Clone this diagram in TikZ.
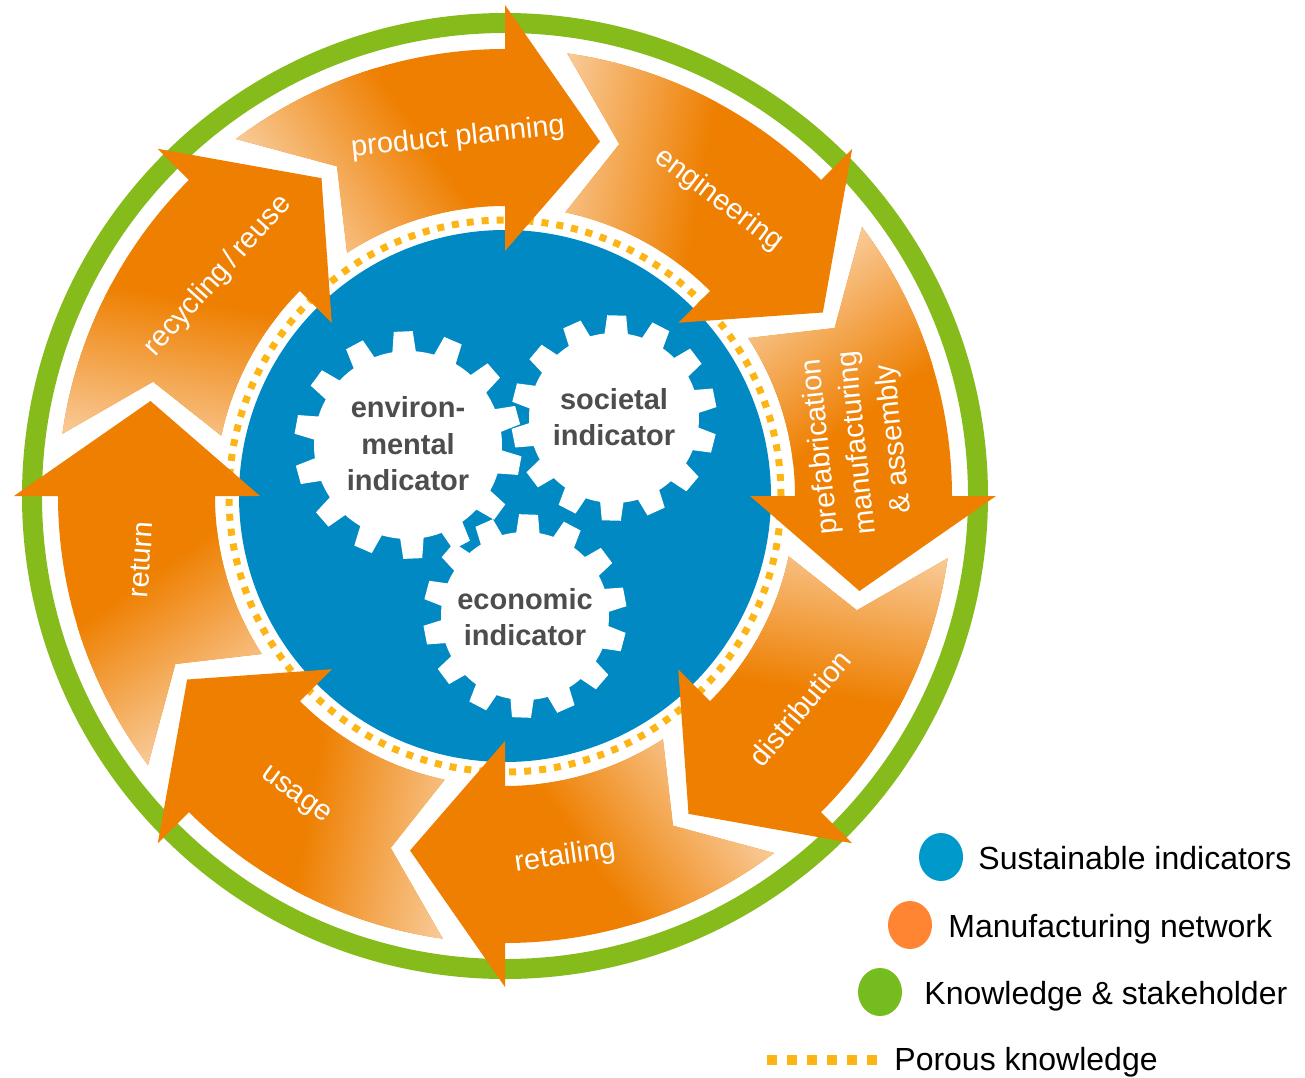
\documentclass[tikz,border=0pt]{standalone}
\usepackage{fontspec}
\setmainfont{Liberation Sans}
\definecolor{ringgreen}{HTML}{85BB1B}
\definecolor{discblue}{HTML}{0089C2}
\definecolor{armain}{HTML}{EE7F00}
\definecolor{arlight}{HTML}{FAD4AC}
\definecolor{dotyellow}{HTML}{FDB515}
\definecolor{gtext}{HTML}{4D4D4D}
\definecolor{legblue}{HTML}{0099CC}
\definecolor{legorange}{HTML}{FF8533}
\definecolor{leggreen}{HTML}{75BC20}
\tikzset{
  arrowlabel/.style={text=white, font=\fontsize{14.5}{18.5}\selectfont, inner sep=0pt, align=center},
  gearlabel/.style={text=gtext, font=\bfseries\fontsize{14.5}{18.2}\selectfont, align=center, inner sep=0pt},
  legendtext/.style={text=black, font=\fontsize{16}{19}\selectfont, anchor=base west, inner sep=0pt},
  porousring/.style={dotyellow, line width=3.5pt, dash pattern=on 3.5pt off 4pt},
}
\newcommand\arrowshape[1]{(#1:491) -- (#1-15:367) -- (#1:245) -- (#1:290) arc[start angle=#1, end angle=#1+33, radius=290] -- (#1+27:370) -- (#1+37:447) arc[start angle=#1+37, end angle=#1, radius=447] -- cycle}
\newcommand\gearshape[6]{%
  \begin{scope}[shift={(#1,#2)}]
    \fill[white] (0,0) circle[radius=#4];
    \pgfmathsetmacro\rb{#4-3}
    \pgfmathsetmacro\hb{deg(12.5/#4)}
    \pgfmathsetmacro\ht{deg(9.5/#5)}
    \foreach \t in {1,...,#3}{
      \pgfmathsetmacro\ga{#6+360*\t/#3}
      \fill[white] (\ga-\hb:\rb) -- (\ga-\ht:#5) -- (\ga+\ht:#5) -- (\ga+\hb:\rb) -- cycle;
    }
  \end{scope}}
\begin{document}
\begin{tikzpicture}[x=0.5pt,y=0.5pt]
\useasboundingbox (-505,-581) rectangle (800,496);
\coordinate (C) at (0,0);
% outer knowledge ring
\draw[ringgreen, line width=10pt] (C) circle[radius=473];
% sustainable indicators disc
\fill[discblue] (C) circle[radius=266];
% porous knowledge ring
\draw[porousring] (C) circle[radius=276];
% process arrows
\foreach \k in {0,...,7}{
  \pgfmathsetmacro{\h}{90-45*\k}
  \pgfmathsetmacro{\g}{\h-55}
  \fill[armain] \arrowshape{\h};
  \begin{scope}
    \clip \arrowshape{\h};
    \begin{scope}[transform canvas={rotate=\g}]
      \fill[arlight] (-300,-600) rectangle (-35,600);
      \shade[left color=arlight, right color=armain] (-35,-600) rectangle (140,600);
    \end{scope}
  \end{scope}
}
% gears
\gearshape{-97}{51}{14}{94}{114}{92.4}
\gearshape{109}{78}{14}{85}{103}{88.5}
\gearshape{20}{-120}{14}{84}{102}{88}
\node[gearlabel] (genv) at (-97,52) {environ-\\mental\\indicator};
\node[gearlabel] (gsoc) at (109,79) {societal\\indicator};
\node[gearlabel] (geco) at (20,-121) {economic\\indicator};
% arrow labels
\node[arrowlabel, rotate=6] (lplan) at (-47,358) {product planning};
\node[arrowlabel, rotate=-37] (leng) at (214,296) {engineering};
\node[arrowlabel, rotate=96] (lpre) at (353,53) {prefabrication\\manufacturing\\\& assembly};
\node[arrowlabel, rotate=50] (ldis) at (295,-212) {distribution};
\node[arrowlabel, rotate=8] (lret) at (60,-361) {retailing};
\node[arrowlabel, rotate=-36] (luse) at (-210,-300) {usage};
\node[arrowlabel, rotate=86] (lreturn) at (-364,-64) {return};
\node[arrowlabel, rotate=48] (lrec) at (-287,220) {recycling\,/\,reuse};
% legend
\fill[legblue] (436,-361) ellipse[x radius=22, y radius=24];
\node[legendtext] (lsus) at (473,-373) {Sustainable indicators};
\fill[legorange] (405,-429) ellipse[x radius=22, y radius=24];
\node[legendtext] (lman) at (443,-441) {Manufacturing network};
\fill[leggreen] (375,-496) ellipse[x radius=22, y radius=24];
\node[legendtext] (lkno) at (419,-508) {Knowledge \& stakeholder};
\foreach \i in {0,...,5}{
  \fill[dotyellow] (262+20*\i,-569) rectangle ++(10,10);
}
\node[legendtext] (lpor) at (389,-574) {Porous knowledge};
\end{tikzpicture}
\end{document}
